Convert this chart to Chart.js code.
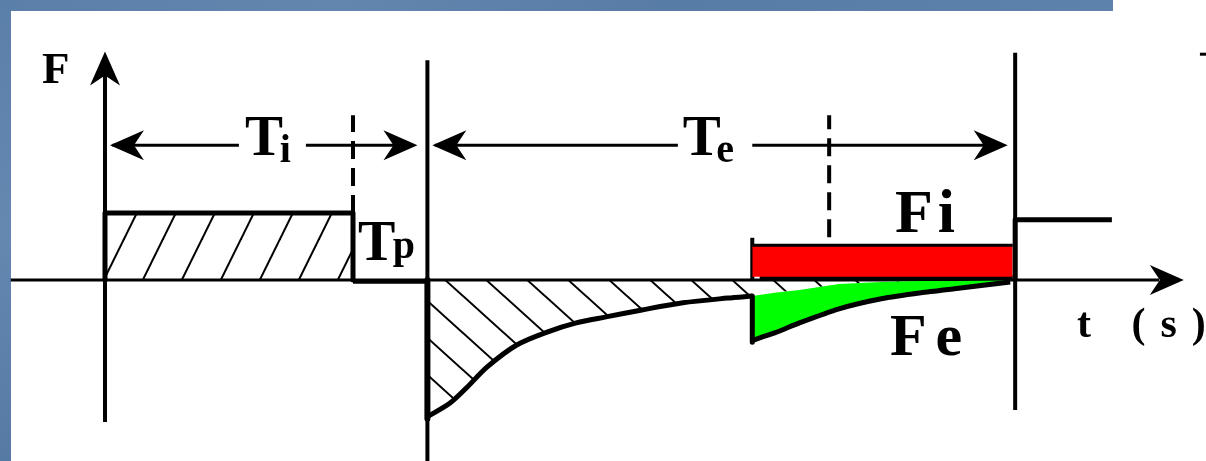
<!DOCTYPE html>
<html>
<head>
<meta charset="utf-8">
<script src="https://cdn.jsdelivr.net/npm/chart.js@4.4.1/dist/chart.umd.min.js"></script>
<style>
    html, body { margin: 0; padding: 0; background: #ffffff; }
    canvas { display: block; }
</style>
</head>
<body>
<canvas id="chart" width="1206" height="461"></canvas>
<script>
// ---- Data: t in time units, F in force units ----

// Ti block (injection pulse)
const tiBlockT = [0, 0, 10, 10];
const tiBlockF = [0, 10, 10, 0];
// Tp pause on the axis
const tpT = [10, 13];
// Fe curve after the pulse
const feCurveT = [13.0, 13.9, 14.6, 15.4, 16.6, 17.8, 19.0, 20.2, 21.6, 23.3, 25.1, 26.1];
const feCurveF = [-20.4, -18.4, -16.0, -13.0, -9.7, -7.8, -6.4, -5.5, -4.5, -3.4, -2.7, -2.4];
// tail of the original Fe curve and the shifted Fe curve under Fi
const feTailT = [26.1, 27.0, 28.0, 29.6, 31.3, 32.9, 34.5, 36.5];
const feTailF = [-2.4, -1.9, -1.5, -0.6, -0.3, -0.15, -0.15, -0.07];
const feShiftF = [-9.0, -7.9, -6.4, -4.3, -2.8, -1.9, -1.2, -0.3];
// Fi pulse
const fiT = [26.1, 36.6];
const fiLevel = 5.2;
// next pulse after Te
const stepT = [36.7, 36.7, 40.6];
const stepF = [0, 9.0, 9.0];
// period boundaries and dashed marks
const boundaryT = [13.0, 36.7];
const dashT = [10.0, 29.2];
// Ti / Te dimension arrows
const dimLevel = 20.1;
const tiArrowT = [0.3, 5.4, 8.1, 12.4];
const teArrowT = [13.3, 23.1, 26.1, 36.2];

const labelTexts = ['F', 'T', 'i', 'T', 'e', 'T', 'p', 'Fi', 'Fe', 't (s)'];

// ---- Layout / styles ----
const view = { tMin: -4.234, tMax: 44.395, fMin: -27.01, fMax: 41.79 };
const serif = '"Liberation Serif", "Noto Serif CJK SC", "Noto Sans CJK SC", serif';
const labelLayout = [
    { t: -2.54, f: 29.4, size: 45, spacing: 0 },
    { t: 5.65, f: 18.6, size: 57, spacing: 0 },
    { t: 7.05, f: 17.6, size: 40, spacing: 0 },
    { t: 23.3, f: 18.6, size: 57, spacing: 0 },
    { t: 24.65, f: 17.6, size: 40, spacing: 0 },
    { t: 10.2, f: 3.0, size: 56, spacing: 0 },
    { t: 11.6, f: 3.3, size: 40, spacing: 0 },
    { t: 31.85, f: 7.2, size: 62, spacing: 5 },
    { t: 31.65, f: -11.2, size: 60, spacing: 9 },
    { t: 39.19, f: -8.5, size: 42, spacing: 15 }
];
const arrowHeads = [
    { t: 0, f: 34.1, dir: 'up' },
    { t: 43.5, f: 0, dir: 'right' },
    { t: 0.2, f: dimLevel, dir: 'left' },
    { t: 12.6, f: dimLevel, dir: 'right' },
    { t: 13.2, f: dimLevel, dir: 'left' },
    { t: 36.4, f: dimLevel, dir: 'right' }
];

const canvas = document.getElementById('chart');
const ctx = canvas.getContext('2d');

function pts(ts, fs) {
    return ts.map((t, i) => ({ x: t, y: fs[i] }));
}

// diagonal hatch pattern
function makeHatch(w, h, dir, shift) {
    const c = document.createElement('canvas');
    c.width = w; c.height = h;
    const g = c.getContext('2d');
    g.strokeStyle = '#000000';
    g.lineWidth = 2;
    [-w, 0, w].forEach(off => {
        g.beginPath();
        if (dir === '/') { g.moveTo(off - w, 2 * h); g.lineTo(off + 2 * w, -h); }
        else { g.moveTo(off - w, -h); g.lineTo(off + 2 * w, 2 * h); }
        g.stroke();
    });
    const p = ctx.createPattern(c, 'repeat');
    p.setTransform(new DOMMatrix().translate(shift, 0));
    return p;
}
const hatchTi = makeHatch(39, 79, '/', 8);
const hatchFe = makeHatch(41, 37, '\\', 12);

function line(data, width, extra) {
    return Object.assign({ data: data, borderColor: '#000000', borderWidth: width, fill: false, order: 3 }, extra || {});
}

const datasets = [];
// axes
datasets.push(line([{ x: -3.8, y: 0 }, { x: 42.5, y: 0 }], 3, { order: 6 }));
datasets.push(line([{ x: 0, y: -21.2 }, { x: 0, y: 33.0 }], 4, { order: 6 }));
// Ti block
datasets.push(line(pts(tiBlockT, tiBlockF), 5, { fill: 'origin', backgroundColor: hatchTi }));
datasets.push(line(pts(tpT, [-0.25, -0.25]), 4));
// Fe curve with hatch
datasets.push(line(pts(feCurveT, feCurveF), 5, { fill: 'origin', backgroundColor: hatchFe, tension: 0.3 }));
datasets.push(line([{ x: feCurveT[0], y: 0 }, { x: feCurveT[0], y: feCurveF[0] - 0.3 }], 6));
datasets.push(line([{ x: fiT[0], y: feTailF[0] }, { x: fiT[0], y: feShiftF[0] - 0.3 }], 5));
const tailIndex = datasets.length;
datasets.push(line(pts(feTailT, feTailF), 0, { fill: 'origin', backgroundColor: hatchFe, order: 5 }));
datasets.push(line(pts(feTailT, feShiftF), 5, { fill: tailIndex, backgroundColor: '#00ff00', order: 4, tension: 0.2 }));
// Fi pulse
datasets.push(line(pts(fiT, [fiLevel, fiLevel]), 3, { fill: { value: 0.5 }, backgroundColor: '#ff0000', order: 2 }));
datasets.push(line([{ x: fiT[0], y: 0 }, { x: fiT[0], y: 6.3 }], 4, { order: 2 }));
datasets.push(line(pts([26.4, fiT[1]], [0.4, 0.4]), 4, { order: 2 }));
// boundaries
datasets.push(line([{ x: boundaryT[0], y: -27.5 }, { x: boundaryT[0], y: 32.8 }], 4));
datasets.push(line([{ x: boundaryT[1], y: -19.4 }, { x: boundaryT[1], y: 33.9 }], 4));
datasets.push(line(pts(stepT, stepF), 5, { order: 1 }));
datasets.push(line([{ x: dashT[0], y: 10 }, { x: dashT[0], y: 24.6 }], 4, { borderDash: [18, 9] }));
datasets.push(line([{ x: dashT[1], y: 6.4 }, { x: dashT[1], y: 24.6 }], 4, { borderDash: [18, 9] }));
// dimension arrows
datasets.push(line(pts(tiArrowT.slice(0, 2), [dimLevel, dimLevel]), 3));
datasets.push(line(pts(tiArrowT.slice(2), [dimLevel, dimLevel]), 3));
datasets.push(line(pts(teArrowT.slice(0, 2), [dimLevel, dimLevel]), 3));
datasets.push(line(pts(teArrowT.slice(2), [dimLevel, dimLevel]), 3));
// small mark at top right
datasets.push(line([{ x: 44.15, y: 33.7 }, { x: 44.4, y: 33.7 }], 3));

// Background with the blue slide frame
const slideBackground = {
    id: 'slideBackground',
    beforeDraw: (chart) => {
        const c = chart.ctx;
        c.save();
        c.fillStyle = '#ffffff';
        c.fillRect(0, 0, chart.width, chart.height);
        const grad = c.createLinearGradient(0, 0, 1113, 0);
        grad.addColorStop(0, '#5a7fa9');
        grad.addColorStop(0.3, '#6386ae');
        grad.addColorStop(0.6, '#577ca6');
        grad.addColorStop(1, '#5d82ab');
        c.fillStyle = grad;
        c.fillRect(0, 0, 1113, 11);
        const side = c.createLinearGradient(0, 0, 0, chart.height);
        side.addColorStop(0, '#5a7fa9');
        side.addColorStop(0.5, '#6488b0');
        side.addColorStop(1, '#557aa4');
        c.fillStyle = side;
        c.fillRect(0, 0, 11, chart.height);
        c.restore();
    }
};

// Arrow heads and text labels
const annotations = {
    id: 'annotations',
    afterDatasetsDraw: (chart) => {
        const c = chart.ctx;
        const xs = chart.scales.x, ys = chart.scales.y;
        c.save();
        c.fillStyle = '#000000';
        arrowHeads.forEach(a => {
            const px = xs.getPixelForValue(a.t), py = ys.getPixelForValue(a.f);
            const ang = { right: 0, left: Math.PI, up: -Math.PI / 2 }[a.dir];
            c.save();
            c.translate(px, py);
            c.rotate(ang);
            c.beginPath();
            c.moveTo(0, 0);
            c.lineTo(-34, -15);
            c.lineTo(-24, 0);
            c.lineTo(-34, 15);
            c.closePath();
            c.fill();
            c.restore();
        });
        c.textBaseline = 'alphabetic';
        c.textAlign = 'left';
        labelTexts.forEach((txt, i) => {
            const l = labelLayout[i];
            c.font = 'bold ' + l.size + 'px ' + serif;
            c.letterSpacing = l.spacing + 'px';
            c.fillText(txt, xs.getPixelForValue(l.t), ys.getPixelForValue(l.f));
        });
        c.restore();
    }
};

const config = {
    type: 'scatter',
    data: { datasets: datasets },
    options: {
        responsive: false,
        animation: false,
        events: [],
        layout: { padding: 0 },
        elements: {
            point: { radius: 0, hoverRadius: 0 },
            line: { tension: 0, borderCapStyle: 'butt', borderJoinStyle: 'round' }
        },
        datasets: { scatter: { showLine: true, clip: false } },
        plugins: { legend: { display: false }, tooltip: { enabled: false } },
        scales: {
            x: { type: 'linear', min: view.tMin, max: view.tMax, display: false },
            y: { type: 'linear', min: view.fMin, max: view.fMax, display: false }
        }
    },
    plugins: [slideBackground, annotations]
};

new Chart(canvas, config);
</script>
</body>
</html>
